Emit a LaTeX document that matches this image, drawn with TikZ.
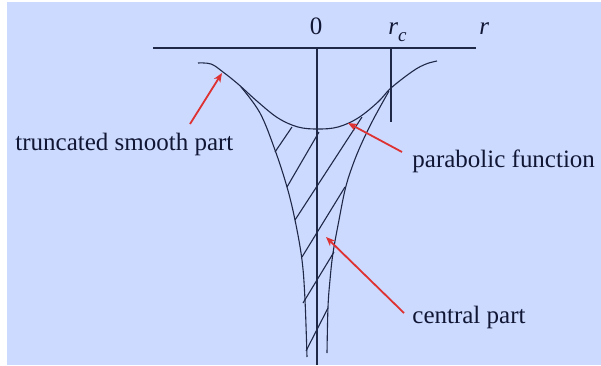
\documentclass[tikz,border=0pt]{standalone}
\usepackage{fontspec}
\setmainfont{Liberation Serif}
\usetikzlibrary{arrows.meta}
\definecolor{bgblue}{RGB}{204,218,255}
\definecolor{inkline}{RGB}{32,40,72}
\definecolor{inktext}{RGB}{16,22,52}
\definecolor{arrred}{RGB}{222,50,50}

\begin{document}
\begin{tikzpicture}[
x=0.5pt, y=-0.5pt,
font=\fontsize{12.5}{15}\selectfont,
ink/.style={draw=inkline, line width=0.55pt},
lbl/.style={text=inktext, inner sep=0pt, anchor=base west},
axlbl/.style={text=inktext, inner sep=0pt, anchor=base},
redarr/.style={draw=arrred, line width=0.9pt, -{Stealth[length=4.5pt, width=3.6pt, inset=1.2pt]}}
]

% Background
\useasboundingbox (0,0) rectangle (601,365);
\fill[bgblue] (7,2) rectangle (601,365);

% Axis and ticks
\coordinate (axL) at (153,48);
\coordinate (axR) at (476,48);
\coordinate (zeroTop) at (317,48);
\coordinate (zeroBot) at (317,365);
\coordinate (rcTop) at (391,48);
\coordinate (rcBot) at (391,122);
\draw[ink] (axL) -- (axR);
\draw[ink] (zeroTop) -- (zeroBot);
\draw[ink] (rcTop) -- (rcBot);

\node[axlbl] (lblZero) at (316,34) {0};
\node[axlbl, anchor=base west] (lblRc) at (388,34) {\textit{r}\raisebox{-0.3em}{\fontsize{9.5}{10}\selectfont\textit{c}}};
\node[axlbl, anchor=base west] (lblR) at (479,34) {\textit{r}};

% Truncated smooth curve
\draw[ink] plot[smooth, tension=0.6] coordinates {(198,63) (211,64) (223,72) (238,84) (258,102) (278,118) (298,127) (318,129) (338,127) (358,118) (378,102) (391,88) (413,71) (426,64) (437,61)};

% Central part (cusp)
\draw[ink] plot[smooth, tension=0.6] coordinates {(241,87) (260,113) (275,150) (287,187) (295,220) (302,260) (305,300) (307,357)};
\draw[ink] plot[smooth, tension=0.6] coordinates {(389,91) (373,120) (360,147) (351,170) (345,190) (339,220) (333,253) (330,280) (328,307) (327,353)};

% Hatching
\draw[ink] (292,127) -- (275,152);
\draw[ink] (319,132) -- (287,187);
\draw[ink] (362,117) -- (295,220);
\draw[ink] (345,187) -- (302,257);
\draw[ink] (334,252) -- (303,303);
\draw[ink] (328,308) -- (306,351);

% Labels
\node[lbl] (lblTrunc) at (15,150) {truncated smooth part};
\node[lbl] (lblPara) at (412,167) {parabolic function};
\node[lbl] (lblCent) at (412,323) {central part};

% Pointers
\coordinate (truncTail) at (190,124);
\coordinate (truncTip) at (222,73);
\coordinate (paraTail) at (402,152);
\coordinate (paraTip) at (348,123);
\coordinate (centTail) at (404,313);
\coordinate (centTip) at (326,237);
\draw[redarr] (truncTail) -- (truncTip);
\draw[redarr] (paraTail) -- (paraTip);
\draw[redarr] (centTail) -- (centTip);

\end{tikzpicture}
\end{document}
